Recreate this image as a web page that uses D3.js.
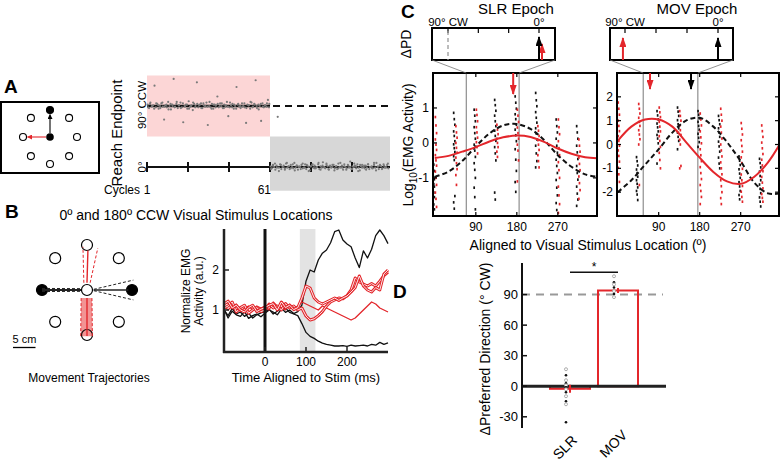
<!DOCTYPE html>
<html><head><meta charset="utf-8">
<script src="https://cdn.jsdelivr.net/npm/d3@7"></script>
<style>body{margin:0;background:#fff}svg{display:block;font-family:"Liberation Sans",Arial,sans-serif}</style>
</head><body><svg id="c" width="781" height="463"></svg>
<script>
// ---------------- DATA ----------------
// Panel A: reach endpoints (deg) per trial
const pinkAngles = [92,87,95,89,91,120,88,93,86,90,94,89,70,91,88,96,90,85,92,130,89,93,87,91,95,88,66,90,92,86,97,89,91,84,93,90,125,88,92,94,87,91,89,95,62,90,88,93,86,92,91,104,88,94,90,87,92,89,96,75,88,91,93,86,90,118,92,89,87,94,90,88,65,92,91,86,95,89,93,128,87,92,90,68,94,88,91,89,99,93];
const pinkAngles2 = [88,93,90,86,94,91,87,95,89,92,85,93,90,88,96,91,87,94,89,92,86,90,95,88,93,91,87,94,90,89,96,86,92,88,93,90,94,87,91,89,95,88,92,86,93,90,89,94,87,91,96,88,92,90,85,93,89,91,94,88];
const grayAngles = [1,-2,3,0,-4,2,74,-1,4,-3,0,2,-2,5,-1,1,-3,3,0,-2,6,-1,2,-4,1,0,3,-2,-1,4,-3,2,0,-5,1,3,-1,2,-2,0,4,-3,1,-1,7,0,-2,3,1,-4,2,-1,0,3,-2,1,-3,5,0,-1,2,-4,1,0,-2,3,-1,8,-3,1,0,2,-2,4,-1,-5,1,3,0,-2,2,-1,4,-3,0,1,-2,3,-1,6,0,-3,2,1,-2,4,-1,0,3,-2];
const grayAngles2 = [-3,2,5,-1,-6,3,0,-4,6,1,-2,4,-5,2,0,-3,5,-1,3,-6,1,4,-2,0,6,-4,2,-1,5,-3,0,3,-5,1,-2,6,-1,4,-4,2,0,-3,5,1,-6,3,-1,2,-4,4,0,-2,6,-5,1,3,-3,2,-1,5];
const cycleTicks = [1,21,41,61,81,101];
const targetAngles = [0,45,90,135,180,225,270,315];

// Panel B: trajectories (cm) and EMG
const trajBlackL = {mean:[[-10,0],[-1.3,0]], sd1:[[-10,0.35],[-1.3,0.3]], sd2:[[-10,-0.35],[-1.3,-0.3]]};
const trajBlackR = {mean:[[1.5,0],[9.2,0]], sd1:[[1.5,0.15],[10.3,2.2]], sd2:[[1.5,-0.15],[10.3,-2.2]]};
const trajRedUp = {mean:[[0,1.6],[0.2,8.8]], sd1:[[-0.7,1.6],[-0.9,9.6]], sd2:[[0.7,1.6],[2.4,9.3]]};
const trajRedDown = {mean:[[0,-1.8],[0,-10.2]], sd1:[[-1.3,-1.8],[-1.4,-10.3]], sd2:[[1.1,-1.8],[1.2,-10.3]]};
const emgTime = [-100,-90,-80,-70,-60,-50,-40,-30,-20,-10,0,10,20,30,40,50,60,70,80,90,100,110,120,130,140,150,160,170,180,190,200,210,220,230,240,250,260,270,280,290,300];
const blackUp = [1.0,0.86,1.04,0.9,0.95,0.84,0.92,0.8,0.88,0.93,0.96,1.02,0.9,0.97,1.05,0.94,1.0,0.91,0.96,1.12,1.72,2.0,1.95,2.25,2.42,2.5,2.68,2.96,3.0,2.75,2.65,2.58,2.3,2.06,2.48,2.3,2.52,2.86,3.0,2.86,2.66];
const blackDown = [1.02,0.8,0.97,0.88,0.84,0.96,0.79,0.86,0.9,0.83,0.92,1.0,0.95,0.88,1.02,1.05,0.94,0.9,0.86,0.66,0.44,0.34,0.29,0.22,0.17,0.14,0.12,0.1,0.1,0.11,0.09,0.12,0.1,0.11,0.12,0.1,0.14,0.12,0.19,0.14,0.18];
const red1 = [1.15,1.22,1.05,1.12,1.0,0.95,1.06,1.12,0.96,1.02,1.06,1.12,1.16,1.0,1.2,1.06,1.12,1.01,1.06,1.3,1.6,1.55,1.3,1.2,1.15,1.2,1.25,1.3,1.24,1.3,1.35,1.45,1.56,1.85,1.6,1.5,1.45,1.56,1.5,1.9,2.0];
const red2 = [1.05,1.1,1.2,0.95,1.06,1.12,0.92,1.0,1.06,0.96,1.0,1.15,1.05,1.1,1.0,1.16,1.05,1.1,1.0,1.05,0.85,0.75,0.78,0.86,0.96,1.1,1.2,1.25,1.3,1.28,1.36,1.5,1.8,1.7,1.65,1.6,1.66,1.6,1.72,1.86,1.95];
const red3 = [1.1,1.0,1.1,1.15,0.96,1.05,1.1,1.0,1.1,1.05,1.1,1.0,1.2,1.1,1.05,1.0,1.15,1.05,1.1,1.2,1.15,1.1,1.05,1.0,1.1,1.05,1.0,0.95,0.9,0.85,0.8,0.75,0.8,0.9,1.0,1.1,1.2,1.15,1.05,1.0,0.95];
const emgXTicks = [0,100,200];
const emgYTicks = [1,2];
const emgWindow = [85,123];

// Panel C
const dirs = [0,45,90,135,180,225,270,315];
const curveAngles = [0,30,60,90,120,150,180,210,240,270,300,330,357];
const slrRedFit = [-0.43,-0.37,-0.25,-0.12,0.04,0.16,0.21,0.17,0.03,-0.16,-0.31,-0.41,-0.44];
const slrBlackFit = [-0.97,-0.82,-0.52,-0.1,0.27,0.5,0.54,0.4,0.08,-0.35,-0.68,-0.9,-0.97];
const movRedFit = [0.15,0.75,1.05,1.05,0.75,0.1,-0.55,-1.15,-1.55,-1.65,-1.35,-0.75,0.05];
const movBlackFit = [-2.0,-1.5,-0.85,-0.2,0.5,1.0,1.12,0.75,0.1,-0.7,-1.6,-2.05,-2.05];
const slrBlack = [
 [-0.45,-0.62,-0.8,-0.93,-0.98,-1.04,-1.1,-1.18,-1.25,-1.33,-1.42,-1.55,-1.63,-1.76,-1.9],
 [0.86,0.68,0.52,0.33,0.2,0.05,-0.04,-0.15,-0.26,-0.38,-0.49,-1.52,-1.7,-1.88],
 [0.95,0.78,0.62,0.45,0.28,0.12,-0.05,-0.22,-0.4,-0.58,-0.77,-1.0,-1.28,-1.55,-1.9],
 [1.23,1.08,0.92,0.78,0.62,0.48,0.35,0.2,0.06,-0.12,-0.3,-0.5,-1.42,-1.62],
 [1.33,1.15,0.98,0.82,0.68,0.52,0.38,0.22,0.05,-0.18,-0.48,-0.8,-1.12,-1.4],
 [1.43,1.22,1.05,0.88,0.72,0.58,0.42,0.27,0.1,-0.08,-0.3,-0.52,-0.7],
 [0.67,0.48,0.3,0.12,-0.08,-0.28,-0.48,-0.66,-0.86,-1.06,-1.28,-1.5,-1.72,-1.92],
 [0.48,0.3,0.12,-0.08,-0.27,-0.46,-0.66,-0.86,-1.05,-1.25,-1.45,-1.62,-1.8]];
const slrRed = [
 [0.74,0.5,0.28,0.1,-0.05,-0.2,-0.35,-0.5,-0.65,-0.82,-1.0,-1.2,-1.42,-1.6,-1.83],
 [0.48,0.3,0.15,0.0,-0.14,-0.28,-0.42,-0.58,-0.75,-0.92,-1.2],
 [0.95,0.8,0.62,0.45,0.3,0.15,0.02,-0.12,-0.3],
 [0.52,0.38,0.25,0.12,0.0,-0.12,-0.25,-0.4],
 [0.95,0.78,0.6,0.44,0.28,0.12,-0.05,-0.22,-0.5,-1.1],
 [0.48,0.35,0.2,0.08,-0.05,-0.2,-0.35,-0.52,-0.7],
 [0.67,0.45,0.25,0.05,-0.15,-0.35,-0.55,-0.78,-1.0,-1.25,-1.5,-1.75,-2.0],
 [0.1,-0.08,-0.25,-0.42,-0.6,-0.78,-0.96,-1.15,-1.35,-1.6]];
const movBlack = [
 [],
 [-0.53,-0.7,-0.88,-1.05,-1.2,-1.35,-1.5,-1.65,-1.8,-1.95,-2.1,-2.33],
 [1.4,1.22,1.05,0.88,0.72,0.55,0.4,0.25,0.05,-0.8],
 [1.55,1.38,1.2,1.02,0.85,0.68,0.5,0.32,0.15,-0.2],
 [1.4,1.25,1.1,0.95,0.78,0.62,0.45,0.28,0.1,-0.1],
 [1.2,1.02,0.85,0.68,0.5,0.32,0.12,-0.08,-0.3,-0.55,-0.8,-1.0],
 [-0.5,-0.68,-0.86,-1.04,-1.22,-1.4,-1.58,-1.76,-1.95,-2.12,-2.3],
 [-0.6,-0.78,-0.96,-1.14,-1.32,-1.5,-1.68,-1.86,-2.04,-2.22,-2.4,-2.6]];
const movRed = [
 [1.76,1.5,1.25,1.0,0.78,0.56,0.35,0.15,-0.05,-0.25,-0.48,-0.72,-0.98,-1.25,-1.57],
 [1.7,1.5,1.3,1.12,0.95,0.78,0.6,0.42,0.22,0.0,-1.7],
 [1.55,1.35,1.15,0.95,0.75,0.55,0.35,0.15,-0.1,-0.35,-0.65,-1.0],
 [1.4,1.2,1.0,0.8,0.6,0.4,0.2,0.0,-0.9,-1.0],
 [1.3,1.05,0.8,0.55,0.3,0.05,-0.2,-0.45,-0.7,-0.95,-1.2,-1.45,-1.7,-1.95,-2.2,-2.5],
 [1.5,1.25,1.0,0.75,0.5,0.25,0.0,-0.25,-0.5,-0.75,-1.0,-1.25,-1.5,-1.75,-2.0,-2.25,-2.5],
 [0.9,0.66,0.42,0.18,-0.06,-0.3,-0.54,-0.78,-1.02,-1.26,-1.5,-1.74,-1.98,-2.2,-2.4],
 [0.8,0.56,0.32,0.08,-0.16,-0.4,-0.64,-0.88,-1.12,-1.36,-1.6,-1.84,-2.08,-2.24,-2.4]];
const slrPD = {red:172, black:172};
const movPD = {red:71, black:161};
const slrDeltaPD = {black:0, red:-1.5};
const movDeltaPD = {black:0, red:92};
const slrWindow = [69,185];
const movWindow = [56,176];
const slrYTicks = [-1,0,1];
const movYTicks = [-2,-1,0,1,2];
const cXTicks = [90,180,270];
const insetTicks = [90,60,30,0];

// Panel D
const dCats = ["SLR","MOV"];
const dMean = [-2.5, 94];
const dSem = [4, 2.5];
const dDots = [[16.7,10.8,5.9,2.9,1,-1,-3,-5.9,-9.8,-14.7,-17.7,-35.4],[108,102,100,97,93.4,90.5,87.5]];
const dYTicks = [-30,0,30,60,90];

// ---------------- DRAW ----------------
const RED = "#e3262b";
const svg = d3.select("#c");
const defs = svg.append("defs");
function marker(id,color,len,wid){
  defs.append("marker").attr("id",id).attr("viewBox","0 0 10 10").attr("refX",9).attr("refY",5)
    .attr("markerWidth",len).attr("markerHeight",wid).attr("markerUnits","userSpaceOnUse")
    .attr("orient","auto").attr("preserveAspectRatio","none")
    .append("path").attr("d","M0,0L10,5L0,10Z").attr("fill",color);
}
marker("mkS","#000",5,5); marker("mrS",RED,5,5);
marker("mkL","#000",10,7); marker("mrL",RED,10,7);
function txt(x,y,s,size,anchor="start",weight="normal",rot=0){
  const t = svg.append("text").attr("font-size",size).attr("text-anchor",anchor).attr("font-weight",weight).attr("fill","#000");
  if(rot) t.attr("transform",`translate(${x},${y}) rotate(${rot})`); else t.attr("x",x).attr("y",y);
  t.text(s); return t;
}
function ln(x1,y1,x2,y2,color="#000",w=1,dash=null){
  const l = svg.append("line").attr("x1",x1).attr("y1",y1).attr("x2",x2).attr("y2",y2).attr("stroke",color).attr("stroke-width",w);
  if(dash) l.attr("stroke-dasharray",dash); return l;
}

// ===== Panel A =====
txt(4,93,"A",19,"start","bold");
svg.append("rect").attr("x",1).attr("y",102).attr("width",98).attr("height",71).attr("fill","none").attr("stroke","#000").attr("stroke-width",2);
const aR = d3.scaleLinear().domain([0,1]).range([0,27]);
const aC = [50,137];
targetAngles.forEach(a=>{
  const r = a*Math.PI/180;
  svg.append("circle").attr("cx",aC[0]+aR(Math.cos(r))).attr("cy",aC[1]-aR(Math.sin(r))).attr("r",3.5)
    .attr("fill",a===90?"#000":"#fff").attr("stroke","#000").attr("stroke-width",1.1);
});
svg.append("circle").attr("cx",aC[0]).attr("cy",aC[1]).attr("r",3.8).attr("fill","#000");
ln(aC[0],aC[1]-4,aC[0],aC[1]-aR(1)+4.5,"#000",1.1).attr("marker-end","url(#mkS)");
ln(aC[0]-4,aC[1],aC[0]-aR(1)+4.5,aC[1],RED,1.1).attr("marker-end","url(#mrS)");

const xA = d3.scaleLinear().domain([1,61]).range([147,270]);
const yA = d3.scaleLinear().domain([0,90]).range([167,106]);
svg.append("rect").attr("x",xA(1)).attr("y",yA(135)).attr("width",xA(61)-xA(1)).attr("height",yA(45)-yA(135)).attr("fill","#fcd6d6");
svg.append("rect").attr("x",xA(61)).attr("y",yA(45)).attr("width",390-xA(61)).attr("height",yA(-35)-yA(45)).attr("fill","#d7d7d7");
ln(xA(1),yA(90),xA(61),yA(90),"#111",2.5);
ln(xA(61)+3,yA(90),390,yA(90),"#111",2,"7,5");
function dots(arr,c0,span){
  arr.forEach((v,i)=>svg.append("circle").attr("cx",xA(c0+(i+0.5)*span/arr.length)).attr("cy",yA(v)).attr("r",1.1).attr("fill","#7a7a7a"));
}
dots(pinkAngles,1,60); dots(pinkAngles2,1,60);
ln(xA(1),yA(0),390,yA(0),"#111",2);
cycleTicks.forEach(c=>ln(xA(c),yA(0)-5,xA(c),yA(0)+5,"#111",2));
dots(grayAngles,61,58); dots(grayAngles2,61,58);
txt(122,133,"Reach Endpoint",15,"middle","normal",-90);
txt(146,105,"90° CCW",11.5,"middle","normal",-90);
txt(146,167,"0°",11.5,"middle","normal",-90);
txt(140,194,"Cycles",12,"end");
txt(xA(1),194,"1",12,"middle");
txt(xA(61)+1,194,"61",12,"end");

// ===== Panel B =====
txt(5,218,"B",19,"start","bold");
txt(196,220,"0º and 180º CCW Visual Stimulus Locations",14,"middle");
const tS = d3.scaleLinear().domain([0,10]).range([0,45]);
const tC = [87,290];
const tl = d3.line().x(d=>tC[0]+tS(d[0])).y(d=>tC[1]-tS(d[1]));
svg.append("path").attr("d", tl(trajRedDown.sd1.concat(trajRedDown.sd2.slice().reverse())))
  .attr("fill","rgba(232,60,60,0.55)").attr("stroke","none");
targetAngles.forEach(a=>{
  const r=a*Math.PI/180;
  svg.append("circle").attr("cx",tC[0]+tS(10*Math.cos(r))).attr("cy",tC[1]-tS(10*Math.sin(r))).attr("r",5.5)
    .attr("fill",(a===0||a===180)?"#000":"none").attr("stroke","#000").attr("stroke-width",1.2);
});
svg.append("circle").attr("cx",tC[0]).attr("cy",tC[1]).attr("r",5.5).attr("fill","#fff").attr("stroke","#000").attr("stroke-width",1.2);
function traj(t,color,mw){
  svg.append("path").attr("d",tl(t.mean)).attr("stroke",color).attr("stroke-width",mw).attr("fill","none");
  [t.sd1,t.sd2].forEach(s=>svg.append("path").attr("d",tl(s)).attr("stroke",color).attr("stroke-width",1).attr("stroke-dasharray","3,2").attr("fill","none"));
}
traj(trajBlackL,"#222",1.8);
traj(trajBlackR,"#222",1.4);
traj(trajRedUp,RED,1.4);
traj(trajRedDown,RED,1.4);
ln(13,347.5,13+tS(5),347.5,"#000",1.3);
txt(24.5,343,"5 cm",11,"middle");
txt(89,382,"Movement Trajectories",12,"middle");

const xE = d3.scaleLinear().domain([-100,300]).range([224,388]);
const yE = d3.scaleLinear().domain([0,3]).range([350,230]);
svg.append("rect").attr("x",xE(emgWindow[0])).attr("y",229).attr("width",xE(emgWindow[1])-xE(emgWindow[0])).attr("height",123).attr("fill","#e3e3e3");
const el = d3.line().x((d,i)=>xE(emgTime[i])).y(d=>yE(d));
function emg(arr,color,tube){
  if(tube){
    svg.append("path").attr("d",el(arr)).attr("stroke",color).attr("stroke-width",3).attr("fill","none").attr("stroke-linejoin","round");
    svg.append("path").attr("d",el(arr)).attr("stroke","#fff").attr("stroke-width",0.9).attr("fill","none").attr("stroke-linejoin","round");
  } else svg.append("path").attr("d",el(arr)).attr("stroke",color).attr("stroke-width",1.3).attr("fill","none").attr("stroke-linejoin","round");
}
emg(blackDown,"#111",false);
emg(blackUp,"#111",false);
emg(red3,RED,false);
emg(red2,RED,true);
emg(red1,RED,true);
ln(xE(0),229,xE(0),352,"#111",3);
ln(224,229,224,353,"#222",2.5);
ln(223,352,388,352,"#222",2.5);
emgYTicks.forEach(v=>{ln(224,yE(v),229,yE(v),"#222",1.5); txt(219,yE(v)+4,String(v),12,"end");});
emgXTicks.forEach(v=>{ln(xE(v),352,xE(v),347,"#222",1.5); txt(xE(v),366,String(v),12,"middle");});
txt(190,291,"Normalize EMG",12,"middle","normal",-90);
txt(203,291,"Activity (a.u.)",12,"middle","normal",-90);
txt(306,382,"Time Aligned to Stim (ms)",13,"middle");

// ===== Panel C =====
txt(401,18,"C",19,"start","bold");
txt(516,14,"SLR Epoch",15,"middle");
txt(697,14,"MOV Epoch",15,"middle");
txt(411,44,"ΔPD",14,"middle","normal",-90);

function cPanel(o){
  const x = d3.scaleLinear().domain(o.xd).range([o.x0, o.x0+164]);
  const y = d3.scaleLinear().domain(o.yd).range([216,73]);
  const right = Math.min(o.x0+164, 779);
  const cid = "clip"+o.name;
  defs.append("clipPath").attr("id",cid).append("rect").attr("x",o.x0).attr("y",73).attr("width",right-o.x0).attr("height",143);
  const g = svg.append("g").attr("clip-path",`url(#${cid})`);
  o.win.forEach(a=>g.append("line").attr("x1",x(a)).attr("x2",x(a)).attr("y1",73).attr("y2",216).attr("stroke","#777").attr("stroke-width",1));
  dirs.forEach((d,k)=>{
    o.black[k].forEach((v,i)=>g.append("rect").attr("x",x(d)-1.9+((i%3)-1)*0.6).attr("y",y(v)-1.3).attr("width",1.7).attr("height",2.6).attr("fill","#111"));
    o.red[k].forEach((v,i)=>g.append("rect").attr("x",x(d)+0.3+((i%3)-1)*0.6).attr("y",y(v)-1.3).attr("width",1.7).attr("height",2.6).attr("fill",RED));
  });
  const cl = d3.line().x((d,i)=>x(curveAngles[i])).y(d=>y(d)).curve(d3.curveCatmullRom);
  g.append("path").attr("d",cl(o.blackFit)).attr("stroke","#111").attr("stroke-width",2).attr("stroke-dasharray","5,3").attr("fill","none");
  g.append("path").attr("d",cl(o.redFit)).attr("stroke",RED).attr("stroke-width",2).attr("fill","none");
  svg.append("rect").attr("x",o.x0).attr("y",73).attr("width",right-o.x0).attr("height",143).attr("fill","none").attr("stroke","#000").attr("stroke-width",2);
  o.yt.forEach(v=>{
    ln(o.x0,y(v),o.x0+4,y(v),"#000",1.2); ln(right,y(v),right-4,y(v),"#000",1.2);
    txt(o.x0-4,y(v)+4,String(v),12,"end");
  });
  cXTicks.forEach(v=>{
    ln(x(v),73,x(v),77,"#000",1.2); ln(x(v),216,x(v),212,"#000",1.2);
    txt(x(v),231,String(v),12,"middle");
  });
  o.pd.forEach(p=>ln(x(p.a),73,x(p.a),o.arrowEnd,p.c,2).attr("marker-end",p.c===RED?"url(#mrL)":"url(#mkL)"));
  const xi = d3.scaleLinear().domain([90,0]).range([o.i90,o.i0]);
  svg.append("rect").attr("x",o.ix0).attr("y",28).attr("width",123).attr("height",32).attr("fill","#fff").attr("stroke","#000").attr("stroke-width",2);
  insetTicks.forEach(v=>ln(xi(v),28,xi(v),33,"#000",1.2));
  if(o.dash) ln(xi(90),31,xi(90),60,"#999",1.3,"4,3");
  txt(xi(90),26,"90° CW",11.5,"middle");
  txt(xi(0),26,"0°",11.5,"middle");
  o.dpd.forEach(p=>ln(xi(p.v)+(p.off||0),60,xi(p.v)+(p.off||0),p.tip,p.c,2).attr("marker-end",p.c===RED?"url(#mrL)":"url(#mkL)"));
  ln(o.ix0,60,x(o.win[0]),73,"#777",0.8);
  ln(o.ix0+123,60,x(o.win[1]),73,"#777",0.8);
}
cPanel({name:"slr",x0:433,xd:[-4,356],yd:[-2.09,2.0],black:slrBlack,red:slrRed,blackFit:slrBlackFit,redFit:slrRedFit,
  yt:slrYTicks,win:slrWindow,pd:[{a:slrPD.red,c:RED}],arrowEnd:94,
  ix0:432,i90:448,i0:539,dash:true,dpd:[{v:slrDeltaPD.red,c:RED,tip:44,off:1.5},{v:slrDeltaPD.black,c:"#000",tip:37}]});
cPanel({name:"mov",x0:617,xd:[-1.5,358.5],yd:[-3,3],black:movBlack,red:movRed,blackFit:movBlackFit,redFit:movRedFit,
  yt:movYTicks,win:movWindow,pd:[{a:movPD.red,c:RED},{a:movPD.black,c:"#000"}],arrowEnd:89,
  ix0:610,i90:625,i0:718,dash:false,dpd:[{v:movDeltaPD.red,c:RED,tip:38},{v:movDeltaPD.black,c:"#000",tip:38}]});
svg.append("text").attr("x",588).attr("y",250).attr("font-size",14).attr("text-anchor","middle").text("Aligned to Visual Stimulus Location (º)");
const lg = svg.append("text").attr("font-size",14).attr("text-anchor","middle").attr("transform","translate(413,145) rotate(-90)");
lg.append("tspan").text("Log");
lg.append("tspan").attr("font-size",10).attr("dy",4).text("10");
lg.append("tspan").attr("dy",-4).text("(EMG Activity)");

// ===== Panel D =====
txt(393,298,"D",19,"start","bold");
const yD = d3.scaleLinear().domain([-41,121]).range([428,263]);
const xD = d3.scaleBand().domain(dCats).range([550,638]).paddingInner(1/6);
ln(522,yD(90),663,yD(90),"#999",2,"8,6");
dCats.forEach((c,i)=>{
  const top = Math.min(yD(dMean[i]),yD(0)), h = Math.abs(yD(dMean[i])-yD(0));
  svg.append("rect").attr("x",xD(c)).attr("y",top).attr("width",xD.bandwidth()).attr("height",h).attr("fill","none").attr("stroke",RED).attr("stroke-width",2);
});
ln(521,yD(0),666,yD(0),"#222",3);
dCats.forEach((c,i)=>{
  const cx = xD(c)+xD.bandwidth()/2;
  ln(cx,yD(dMean[i]-dSem[i]),cx,yD(dMean[i]+dSem[i]),RED,2);
  dDots[i].forEach((v,j)=>{
    if(j%2===0) svg.append("circle").attr("cx",cx-4).attr("cy",yD(v)).attr("r",1.5).attr("fill","#fff").attr("stroke","#999").attr("stroke-width",0.8);
    else svg.append("circle").attr("cx",cx-4).attr("cy",yD(v)).attr("r",1.3).attr("fill","#111");
  });
});
ln(522,263,522,428,"#111",2);
dYTicks.forEach(v=>{ln(522,yD(v),527,yD(v),"#111",1.5); txt(518,yD(v)+4.5,String(v),13,"end");});
const sx0 = xD("SLR")+xD.bandwidth()/2, sx1 = xD("MOV")+xD.bandwidth()/2;
ln(sx0,yD(112),sx1,yD(112),"#111",1.5);
txt((sx0+sx1)/2,yD(112)-1,"*",12,"middle");
txt(490,349,"ΔPreferred Direction (° CW)",14,"middle","normal",-90);
txt(sx0+8,441,"SLR",14,"end","normal",-45);
txt(sx1+10,436,"MOV",14,"end","normal",-45);
</script></body></html>
